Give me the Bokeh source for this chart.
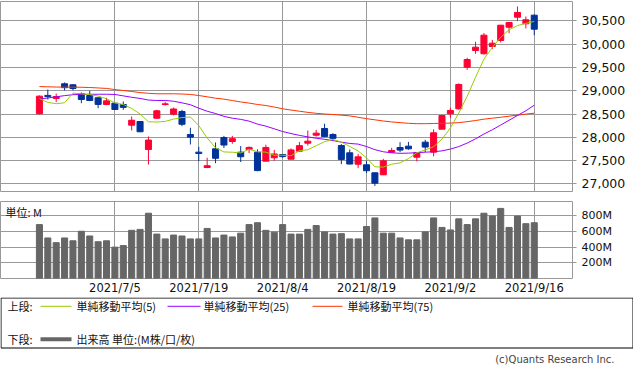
from bokeh.plotting import figure
from bokeh.models import ColumnDataSource, Range1d, FixedTicker, NumeralTickFormatter, Label
from bokeh.layouts import column
from bokeh.embed import file_html
from bokeh.resources import INLINE
from bokeh.core.properties import value

# ---------------- data ----------------
dates = ["2021/6/22", "2021/6/23", "2021/6/24", "2021/6/25", "2021/6/28", "2021/6/29", "2021/6/30",
         "2021/7/1", "2021/7/2", "2021/7/5", "2021/7/6", "2021/7/7", "2021/7/8", "2021/7/9",
         "2021/7/12", "2021/7/13", "2021/7/14", "2021/7/15", "2021/7/16", "2021/7/19", "2021/7/20",
         "2021/7/21", "2021/7/26", "2021/7/27", "2021/7/28", "2021/7/29", "2021/7/30", "2021/8/2",
         "2021/8/3", "2021/8/4", "2021/8/5", "2021/8/6", "2021/8/10", "2021/8/11", "2021/8/12",
         "2021/8/13", "2021/8/16", "2021/8/17", "2021/8/18", "2021/8/19", "2021/8/20", "2021/8/23",
         "2021/8/24", "2021/8/25", "2021/8/26", "2021/8/27", "2021/8/30", "2021/8/31", "2021/9/1",
         "2021/9/2", "2021/9/3", "2021/9/6", "2021/9/7", "2021/9/8", "2021/9/9", "2021/9/10",
         "2021/9/13", "2021/9/14", "2021/9/15", "2021/9/16"]

opens = [28505, 28900, 28834, 29150, 29128, 28935, 28898, 28849, 28705, 28733,
         28705, 28260, 28339, 27737, 28410, 28705, 28496, 28554, 28060, 27680,
         27350, 27752, 27995, 27909, 27680, 27737, 27680, 27486, 27559, 27630,
         27529, 27701, 27873, 28045, 28189, 28060, 27823, 27666, 27421, 27408,
         27236, 27193, 27680, 27780, 27809, 27572, 27895, 27680, 28174, 28505,
         28612, 29507, 29866, 29795, 29952, 30081, 30367, 30582, 30440, 30625]
highs = [28900, 29027, 28941, 29178, 29141, 28963, 28999, 28849, 28849, 28733,
         28770, 28447, 28339, 28016, 28590, 28760, 28640, 28591, 28204, 27795,
         27559, 27888, 28030, 28030, 27810, 27802, 27740, 27840, 27730, 27640,
         27760, 27900, 28146, 28160, 28290, 28088, 27852, 27738, 27645, 27494,
         27236, 27537, 27773, 27895, 27900, 27666, 27945, 28170, 28468, 28635,
         29160, 29710, 30053, 30240, 30095, 30410, 30468, 30812, 30597, 30640]
lows = [28490, 28812, 28754, 29006, 29006, 28733, 28776, 28625, 28690, 28597,
        28591, 28146, 28110, 27414, 28400, 28680, 28470, 28238, 27845, 27486,
        27335, 27443, 27770, 27860, 27468, 27660, 27271, 27486, 27495, 27560,
        27529, 27701, 27823, 28016, 28002, 27945, 27421, 27421, 27335, 27230,
        26954, 27193, 27680, 27680, 27730, 27480, 27680, 27590, 28174, 28419,
        28590, 29450, 29795, 29780, 29900, 30040, 30240, 30496, 30339, 30195]
closes = [28884, 28874, 28875, 29066, 29048, 28812, 28791, 28707, 28783, 28598,
          28643, 28366, 28118, 27940, 28569, 28718, 28608, 28279, 28003, 27652,
          27388, 27548, 27833, 27970, 27581, 27782, 27283, 27781, 27641, 27584,
          27728, 27820, 27916, 28088, 28015, 27977, 27523, 27424, 27580, 27281,
          27013, 27494, 27716, 27724, 27752, 27666, 27789, 28096, 28468, 28576,
          29135, 29672, 29937, 30195, 30023, 30410, 30468, 30683, 30526, 30324]

ma5 = [28833, 28750, 28721, 28742, 28949, 28935, 28918, 28885, 28828, 28738,
       28704, 28619, 28502, 28333, 28327, 28342, 28391, 28423, 28435, 28252,
       27986, 27774, 27685, 27678, 27664, 27743, 27690, 27679, 27614, 27614,
       27603, 27711, 27732, 27818, 27904, 27954, 27895, 27802, 27705, 27558,
       27365, 27359, 27421, 27449, 27541, 27667, 27726, 27797, 27960, 28200,
       28520, 28880, 29290, 29680, 29930, 30150, 30310, 30400, 30450, 30490]
ma25 = [28820, 28845, 28870, 28895, 28915, 28922, 28925, 28925, 28925, 28920,
        28890, 28860, 28835, 28800, 28791, 28791, 28775, 28740, 28700, 28625,
        28560, 28510, 28450, 28410, 28385, 28347, 28283, 28239, 28182, 28123,
        28080, 28041, 28008, 27979, 27956, 27929, 27895, 27867, 27853, 27801,
        27733, 27688, 27666, 27655, 27659, 27669, 27679, 27689, 27708, 27746,
        27800, 27875, 27966, 28070, 28161, 28263, 28365, 28469, 28569, 28690]
ma75 = [29090, 29085, 29080, 29077, 29077, 29075, 29070, 29060, 29050, 29025,
        29005, 28985, 28960, 28945, 28935, 28935, 28935, 28930, 28920, 28898,
        28870, 28840, 28820, 28790, 28760, 28735, 28705, 28683, 28650, 28612,
        28585, 28560, 28535, 28515, 28500, 28490, 28475, 28460, 28430, 28400,
        28375, 28350, 28330, 28315, 28300, 28292, 28292, 28296, 28300, 28305,
        28315, 28335, 28360, 28389, 28410, 28430, 28453, 28475, 28497, 28518]

volume = [686, 516, 456, 516, 480, 601, 541, 468, 480, 399,
          419, 613, 625, 831, 565, 504, 553, 541, 504, 504,
          637, 516, 553, 529, 577, 686, 710, 613, 589, 686,
          565, 565, 625, 674, 593, 565, 571, 504, 504, 662,
          771, 577, 577, 516, 492, 492, 593, 771, 650, 618,
          759, 686, 759, 831, 795, 892, 650, 795, 698, 710]

tick_labels = ["2021/7/5", "2021/7/19", "2021/8/4", "2021/8/19", "2021/9/2", "2021/9/16"]
price_ticks = [27000, 27500, 28000, 28500, 29000, 29500, 30000, 30500]
volume_ticks = [200, 400, 600, 800]
legend_labels = ["単純移動平均(5)", "単純移動平均(25)", "単純移動平均(75)"]
volume_legend = "出来高 単位:(M株/口/枚)"

# ---------------- styles ----------------
UP = "#FF0033"
DOWN = "#003399"
C_MA5 = "#99CC00"
C_MA25 = "#9900FF"
C_MA75 = "#FF3300"
C_VOL = "#666666"
GRID = "#999999"
W = 633
RIGHT = 61
NUM_FONT = "DejaVu Sans"
JP_FONT = "Noto Sans CJK JP"

xs = list(range(len(dates)))
tick_idx = [dates.index(t) for t in tick_labels]
src = ColumnDataSource(dict(
    x=xs, high=highs, low=lows,
    top=[max(o, c) for o, c in zip(opens, closes)],
    bottom=[min(o, c) for o, c in zip(opens, closes)],
    color=[UP if c > o else DOWN for o, c in zip(opens, closes)],
    ma5=ma5, ma25=ma25, ma75=ma75, vol=volume,
))

x_range = Range1d(-4.64, 63.56)

# ---------------- price panel ----------------
p = figure(width=W, height=200, x_range=x_range, y_range=Range1d(26834, 30919),
           x_axis_location=None, y_axis_location="right",
           output_backend="svg", toolbar_location=None,
           min_border_left=0, min_border_top=1, min_border_bottom=9, min_border_right=RIGHT)
p.outline_line_color = GRID
p.xgrid.ticker = FixedTicker(ticks=tick_idx)
p.xgrid.grid_line_color = GRID
p.ygrid.grid_line_color = GRID
ax = p.yaxis[0]
ax.ticker = FixedTicker(ticks=price_ticks)
ax.formatter = NumeralTickFormatter(format="0,0")
ax.axis_line_color = None
ax.major_tick_in = 0
ax.major_tick_out = 4
ax.major_tick_line_color = GRID
ax.minor_tick_line_color = None
ax.major_label_standoff = 5
ax.major_label_text_font = NUM_FONT
ax.major_label_text_font_size = "12.5px"
ax.major_label_text_color = "#111111"

p.segment(x0="x", y0="high", x1="x", y1="low", color="color", line_width=1, source=src)
p.vbar(x="x", width=0.72, top="top", bottom="bottom", fill_color="color",
       line_color="color", line_width=1, source=src)
p.line("x", "ma75", color=C_MA75, line_width=1, source=src)
p.line("x", "ma25", color=C_MA25, line_width=1, source=src)
p.line("x", "ma5", color=C_MA5, line_width=1, source=src)

# ---------------- volume panel ----------------
q = figure(width=W, height=97, x_range=x_range, y_range=Range1d(0, 980),
           y_axis_location="right", output_backend="svg", toolbar_location=None,
           min_border_left=0, min_border_top=1, min_border_bottom=0, min_border_right=RIGHT)
q.outline_line_color = GRID
q.xgrid.grid_line_color = GRID
q.ygrid.grid_line_color = GRID
xa = q.xaxis[0]
xa.ticker = FixedTicker(ticks=tick_idx)
xa.major_label_overrides = {i: t for i, t in zip(tick_idx, tick_labels)}
xa.axis_line_color = None
xa.major_tick_line_color = None
xa.major_tick_in = 0
xa.major_tick_out = 0
xa.minor_tick_line_color = None
xa.minor_tick_out = 0
xa.major_label_standoff = 2
xa.major_label_text_font = NUM_FONT
xa.major_label_text_font_size = "11.5px"
xa.major_label_text_color = "#111111"
ya = q.yaxis[0]
ya.ticker = FixedTicker(ticks=volume_ticks)
ya.major_label_overrides = {v: f"{v}M" for v in volume_ticks}
ya.axis_line_color = None
ya.major_tick_in = 0
ya.major_tick_out = 4
ya.major_tick_line_color = GRID
ya.minor_tick_line_color = None
ya.major_label_standoff = 5
ya.major_label_text_font = NUM_FONT
ya.major_label_text_font_size = "11px"
ya.major_label_text_color = "#111111"

q.vbar(x="x", width=0.72, top="vol", bottom=0, color=C_VOL, source=src)
q.add_layout(Label(x=-4.05, y=850, text="単位: M", text_font=JP_FONT,
                   text_font_size="11px", text_baseline="middle", text_color="#111111"))

# ---------------- legend panel ----------------
H3 = 77
r = figure(width=W, height=H3, x_range=Range1d(0, W), y_range=Range1d(H3, 0),
           x_axis_location=None, y_axis_location=None,
           output_backend="svg", toolbar_location=None, min_border=0)
r.frame_align = False
r.outline_line_color = None
r.xgrid.visible = False
r.ygrid.visible = False
r.quad(left=[0.5], right=[W - 0.5], top=[0.5], bottom=[50.5], fill_color=None,
       line_color="#000000", line_width=1)

row1, row2 = 8.8, 41.7
txt = dict(text_font=value(JP_FONT), text_font_size="11px", text_baseline="middle",
           text_color="#111111")
r.text(x=[7], y=[row1], text=["上段:"], **txt)
r.text(x=[7], y=[row2], text=["下段:"], **txt)
for (x0, x1, tx), col, lab in zip([(40, 71, 76), (167, 200, 203), (312, 342, 347)],
                                  [C_MA5, C_MA25, C_MA75], legend_labels):
    r.segment(x0=[x0], y0=[row1], x1=[x1], y1=[row1], line_color=col, line_width=1)
    r.text(x=[tx], y=[row1], text=[lab], **txt)
r.segment(x0=[40], y0=[row2], x1=[71], y1=[row2], line_color=C_VOL, line_width=4)
r.text(x=[76], y=[row2], text=[volume_legend], **txt)
r.text(x=[614], y=[62], text=["(c)Quants Research Inc."], text_font=value(NUM_FONT),
       text_font_size="10px", text_baseline="middle", text_align="right", text_color="#444444")

layout = column(p, q, r, spacing=0)
open("out.html", "w").write(file_html(layout, INLINE))
